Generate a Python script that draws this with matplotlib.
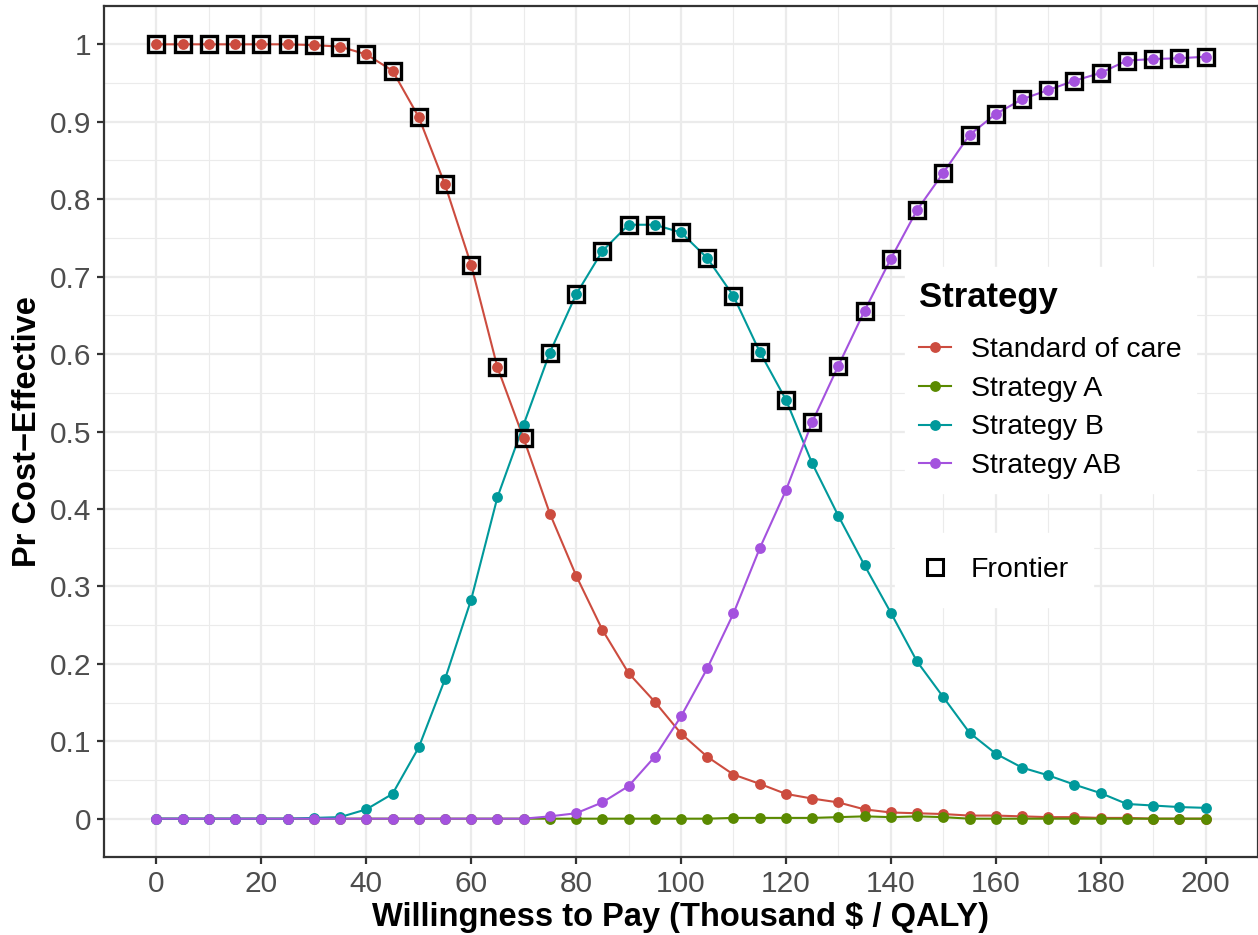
import matplotlib
matplotlib.use("Agg")
import matplotlib.pyplot as plt
from matplotlib.lines import Line2D

plt.rcParams['font.family'] = ['Liberation Sans', 'DejaVu Sans']

# ---------------- data ----------------
wtp = [0, 5, 10, 15, 20, 25, 30, 35, 40, 45, 50, 55, 60, 65, 70, 75, 80, 85, 90, 95,
       100, 105, 110, 115, 120, 125, 130, 135, 140, 145, 150, 155, 160, 165, 170,
       175, 180, 185, 190, 195, 200]

strategies = ["Standard of care", "Strategy A", "Strategy B", "Strategy AB"]

soc = [1.000, 1.000, 1.000, 1.000, 1.000, 1.000, 0.999, 0.997, 0.987, 0.966, 0.906,
       0.819, 0.715, 0.583, 0.491, 0.394, 0.314, 0.244, 0.188, 0.151, 0.110, 0.080,
       0.057, 0.045, 0.032, 0.026, 0.021, 0.012, 0.008, 0.007, 0.006, 0.004, 0.004,
       0.003, 0.002, 0.002, 0.001, 0.001, 0.000, 0.000, 0.000]

strat_a = [0.000, 0.000, 0.000, 0.000, 0.000, 0.000, 0.000, 0.000, 0.000, 0.000, 0.000,
           0.000, 0.000, 0.000, 0.000, 0.000, 0.000, 0.000, 0.000, 0.000, 0.000, 0.000,
           0.001, 0.001, 0.001, 0.001, 0.002, 0.003, 0.002, 0.003, 0.002, 0.000, 0.000,
           0.000, 0.000, 0.000, 0.000, 0.000, 0.000, 0.000, 0.000]

strat_b = [0.000, 0.000, 0.000, 0.000, 0.000, 0.000, 0.001, 0.002, 0.012, 0.032, 0.092,
           0.180, 0.283, 0.415, 0.509, 0.602, 0.677, 0.733, 0.767, 0.767, 0.757, 0.724,
           0.675, 0.603, 0.541, 0.459, 0.391, 0.327, 0.266, 0.203, 0.157, 0.111, 0.084,
           0.066, 0.056, 0.044, 0.033, 0.019, 0.017, 0.015, 0.014]

strat_ab = [0.000, 0.000, 0.000, 0.000, 0.000, 0.000, 0.000, 0.000, 0.000, 0.000, 0.000,
            0.000, 0.000, 0.000, 0.000, 0.003, 0.007, 0.021, 0.042, 0.080, 0.132, 0.194,
            0.265, 0.349, 0.424, 0.512, 0.585, 0.656, 0.723, 0.786, 0.834, 0.883, 0.910,
            0.929, 0.941, 0.953, 0.963, 0.979, 0.981, 0.982, 0.984]

# strategy on the cost-effectiveness frontier at each WTP
frontier = (["Standard of care"] * 15 + ["Strategy B"] * 10 + ["Strategy AB"] * 16)

x_ticks = [0, 20, 40, 60, 80, 100, 120, 140, 160, 180, 200]
y_ticks = [0, 0.1, 0.2, 0.3, 0.4, 0.5, 0.6, 0.7, 0.8, 0.9, 1.0]
y_tick_labels = ["0", "0.1", "0.2", "0.3", "0.4", "0.5", "0.6", "0.7", "0.8", "0.9", "1"]

colors = ["#CC4C3F", "#5A8A00", "#00999B", "#A452DE"]

# ---------------- figure ----------------
W, H = 1258, 935
fig = plt.figure(figsize=(W / 100, H / 100), dpi=100)
left, right, top, bottom = 104, 1258, 5.6, 857.4
ax = fig.add_axes([left / W, 1 - bottom / H, (right - left) / W, (bottom - top) / H])

ax.set_xlim(-10, 210)
ax.set_ylim(-0.05, 1.05)

# grid
ax.set_axisbelow(True)
ax.set_xticks(x_ticks)
ax.set_xticks([10, 30, 50, 70, 90, 110, 130, 150, 170, 190], minor=True)
ax.set_yticks(y_ticks)
ax.set_yticks([0.05, 0.15, 0.25, 0.35, 0.45, 0.55, 0.65, 0.75, 0.85, 0.95], minor=True)
ax.set_yticklabels(y_tick_labels)
ax.grid(True, which='major', color='#EBEBEB', linewidth=1.6)
ax.grid(True, which='minor', color='#EBEBEB', linewidth=0.8)

series = [soc, strat_a, strat_b, strat_ab]
for vals, col in zip(series, colors):
    ax.plot(wtp, vals, color=col, linewidth=1.5, zorder=2)
for vals, col in zip(series, colors):
    ax.plot(wtp, vals, linestyle='none', marker='o', markersize=7.8,
            markerfacecolor=col, markeredgecolor=col, markeredgewidth=0, zorder=3)

# frontier squares
fx = []
fy = []
for i, s in enumerate(frontier):
    fx.append(wtp[i])
    fy.append(series[strategies.index(s)][i])
ax.plot(fx, fy, linestyle='none', marker='s', markersize=11.8,
        markerfacecolor='none', markeredgecolor='black', markeredgewidth=2.4, zorder=4)

# spines / ticks
for sp in ax.spines.values():
    sp.set_color('#333333')
    sp.set_linewidth(1.6)
ax.tick_params(which='major', length=5, width=1.6, color='#333333',
               labelsize=21.5, labelcolor='#4D4D4D', pad=4)
ax.tick_params(which='minor', length=0)

ax.set_xlabel("Willingness to Pay (Thousand $ / QALY)", fontsize=23.5,
              fontweight='bold', labelpad=3)
ax.set_ylabel("Pr Cost\u2212Effective", fontsize=23.5, fontweight='bold', labelpad=5)

# legends
handles = [Line2D([0], [0], color=c, linewidth=1.5, marker='o', markersize=7.8,
                  markeredgewidth=0) for c in colors]
leg1 = ax.legend(handles, strategies, title="Strategy", loc='upper left',
                 bbox_to_anchor=((905 - left) / (right - left), (bottom - 267) / (bottom - top)),
                 fontsize=20.5, title_fontproperties={'weight': 'bold', 'size': 25},
                 frameon=True, fancybox=False, framealpha=1, edgecolor='white',
                 facecolor='white', borderpad=0.5, labelspacing=0.445,
                 handlelength=1.1, handletextpad=0.72, borderaxespad=0,
                 alignment='left')
leg1._legend_box.sep = 16.5
ax.add_artist(leg1)

fh = [Line2D([0], [0], linestyle='none', marker='s', markersize=11,
             markerfacecolor='none', markeredgecolor='black', markeredgewidth=2.2)]
leg2 = ax.legend(fh, ["Frontier"], loc='upper left',
                 bbox_to_anchor=((895 - left) / (right - left), (bottom - 533) / (bottom - top)),
                 fontsize=20.5, frameon=True, fancybox=False, framealpha=1,
                 edgecolor='white', facecolor='white', borderpad=0.85,
                 handlelength=1.1, handletextpad=0.72, borderaxespad=0)

fig.savefig("out.png", dpi=100)
